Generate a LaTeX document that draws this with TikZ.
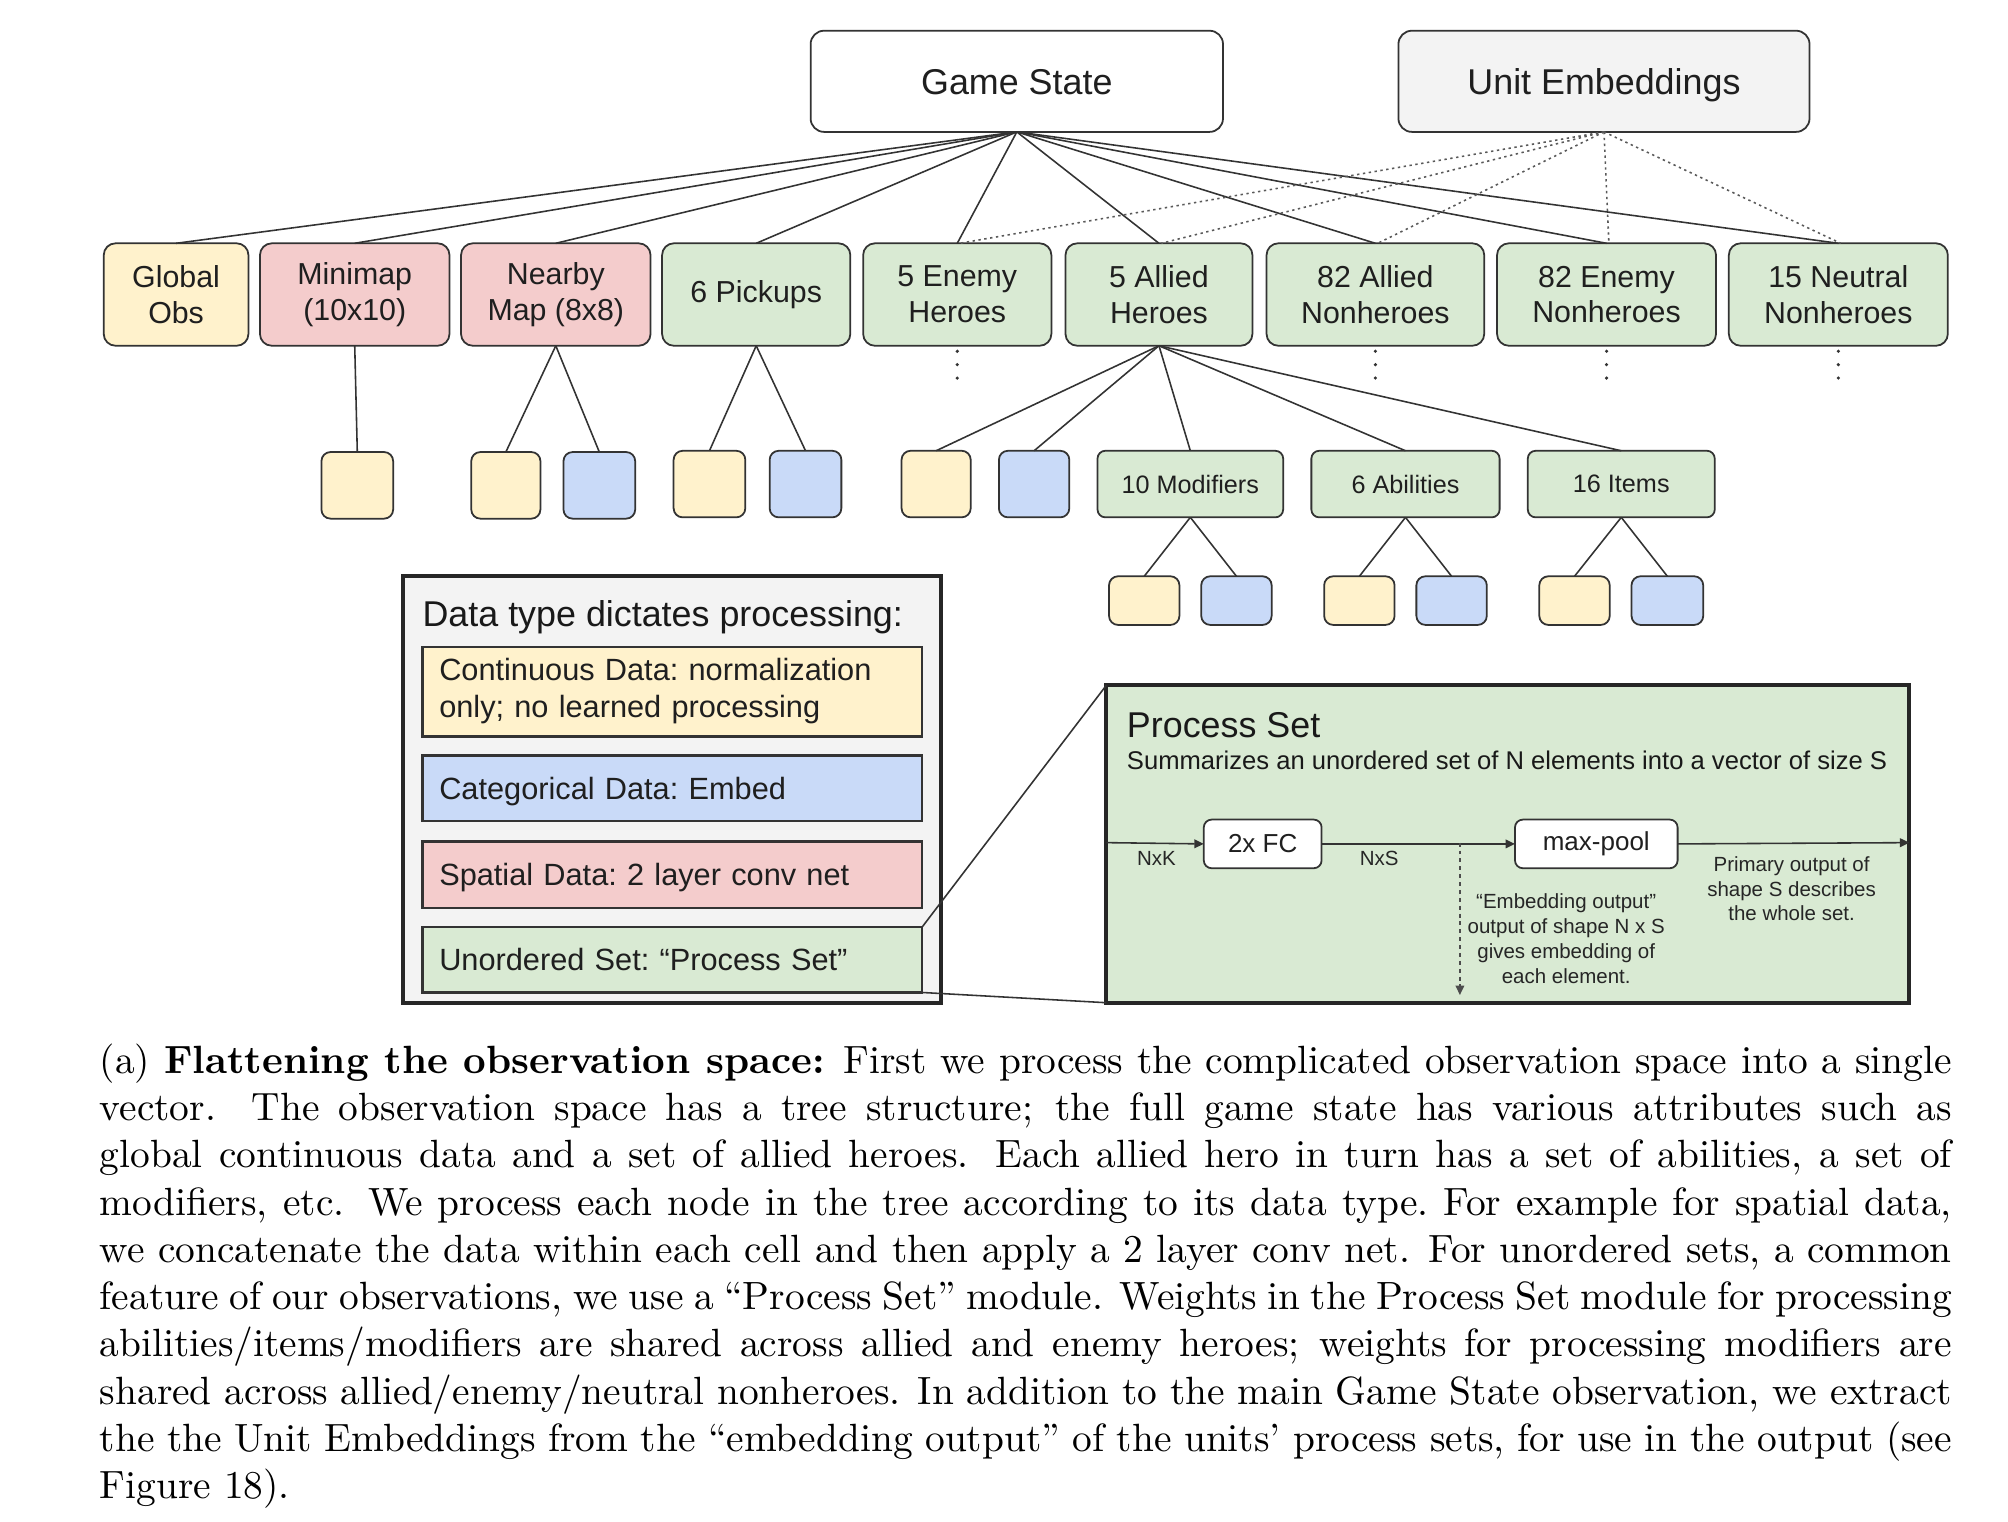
\documentclass[tikz,border=0pt]{standalone}
\usepackage{fontspec}
\newfontfamily\dsans{Liberation Sans}
\usetikzlibrary{arrows.meta}
\definecolor{cyel}{HTML}{FFF2CC}
\definecolor{cpink}{HTML}{F4CCCC}
\definecolor{cgreen}{HTML}{D9EAD3}
\definecolor{cblue}{HTML}{C9DAF8}
\definecolor{cgray}{HTML}{F3F3F3}
\definecolor{cline}{HTML}{333333}
\newcommand\mkbox[7]{\node[#6, minimum width={(#4-#2)*0.325pt}, minimum height={(#5-#3)*0.325pt}] (#1) at ({(#2+#4)/2},{(#3+#5)/2}) {#7};}
\begin{document}
\begin{tikzpicture}[x=0.325pt, y=-0.325pt,
  bx/.style={draw=cline, line width=0.45pt, inner sep=0pt, outer sep=0pt, align=center, text=black!88},
  topbox/.style={bx, rounded corners=3.4pt, text height=6.5pt, text depth=0pt, font=\dsans\frenchspacing\fontsize{9.1}{11}\selectfont},
  rowbox/.style={bx, rounded corners=3pt, font=\dsans\frenchspacing\fontsize{7.7}{9.1}\selectfont},
  leafbox/.style={bx, rounded corners=2.3pt},
  subbox/.style={bx, rounded corners=2pt, fill=cgreen, font=\dsans\frenchspacing\fontsize{6.4}{7.6}\selectfont},
  legbox/.style={bx, line width=0.6pt, text width={364*0.325pt}, align=left, font=\dsans\frenchspacing\fontsize{7.8}{9.4}\selectfont},
  fy/.style={fill=cyel}, fp/.style={fill=cpink}, fg/.style={fill=cgreen}, fb/.style={fill=cblue},
  conn/.style={draw=cline, line width=0.4pt},
  emb/.style={draw=black!65, line width=0.4pt, dash pattern=on 0.6pt off 0.9pt},
  tip/.style={-{Triangle[length=2.4pt,width=2.2pt]}},
  lbl/.style={inner sep=0pt, outer sep=0pt, text=black!85, align=center, font=\dsans\frenchspacing\fontsize{5.2}{6.3}\selectfont},
  ttl/.style={inner sep=0pt, outer sep=0pt, text=black!90, anchor=west, font=\dsans\frenchspacing\fontsize{9.1}{11}\selectfont}
]
\useasboundingbox (0,0) rectangle (1568,1188);
% top
\mkbox{gs}{633}{24}{955}{103}{topbox, fill=white}{Game State}
\mkbox{ue}{1092}{24}{1413}{103}{topbox, fill=cgray}{Unit Embeddings}
% row 1
\mkbox{go}{81}{190}{194}{270}{rowbox, fy}{Global\\Obs}
\mkbox{mm}{203}{190}{351}{270}{rowbox, fp}{Minimap\\(10x10)}
\mkbox{nm}{360}{190}{508}{270}{rowbox, fp}{Nearby\\Map (8x8)}
\mkbox{pk}{517}{190}{664}{270}{rowbox, fg}{6 Pickups}
\mkbox{eh}{674}{190}{821}{270}{rowbox, fg}{5 Enemy\\Heroes}
\mkbox{ah}{832}{190}{978}{270}{rowbox, fg}{5 Allied\\Heroes}
\mkbox{an}{989}{190}{1159}{270}{rowbox, fg}{82 Allied\\Nonheroes}
\mkbox{en}{1169}{190}{1340}{270}{rowbox, fg}{82 Enemy\\Nonheroes}
\mkbox{nn}{1350}{190}{1521}{270}{rowbox, fg}{15 Neutral\\Nonheroes}
% row 2
\mkbox{mmc}{251}{353}{307}{405}{leafbox, fy}{}
\mkbox{nmy}{368}{353}{422}{405}{leafbox, fy}{}
\mkbox{nmb}{440}{353}{496}{405}{leafbox, fb}{}
\mkbox{pky}{526}{352}{582}{404}{leafbox, fy}{}
\mkbox{pkb}{601}{352}{657}{404}{leafbox, fb}{}
\mkbox{ahy}{704}{352}{758}{404}{leafbox, fy}{}
\mkbox{ahb}{780}{352}{835}{404}{leafbox, fb}{}
\mkbox{mod}{857}{352}{1002}{404}{subbox}{10 Modifiers}
\mkbox{abl}{1024}{352}{1171}{404}{subbox}{6 Abilities}
\mkbox{itm}{1193}{352}{1339}{404}{subbox}{16 Items}
% row 3
\mkbox{mdy}{866}{450}{921}{488}{leafbox, fy}{}
\mkbox{mdb}{938}{450}{993}{488}{leafbox, fb}{}
\mkbox{aby}{1034}{450}{1089}{488}{leafbox, fy}{}
\mkbox{abb}{1106}{450}{1161}{488}{leafbox, fb}{}
\mkbox{ity}{1202}{450}{1257}{488}{leafbox, fy}{}
\mkbox{itb}{1274}{450}{1330}{488}{leafbox, fb}{}
% connectors from Game State
\foreach \n in {go,mm,nm,pk,eh,ah,an,en,nn} \draw[conn] (gs.south) -- (\n.north);
% dotted from Unit Embeddings
\foreach \n in {eh,ah,an,en,nn} \draw[emb] (ue.south) -- ([xshift=0.6pt]\n.north);
% ellipsis dots
\foreach \n in {eh,an,en,nn} {
  \fill[cline] ([yshift=-1.4pt]\n.south) circle (0.45pt);
  \fill[cline] ([yshift=-4.8pt]\n.south) circle (0.45pt);
  \fill[cline] ([yshift=-8.2pt]\n.south) circle (0.45pt);
}
% tree below
\draw[conn] (mm.south) -- (mmc.north);
\draw[conn] (nm.south) -- (nmy.north);
\draw[conn] (nm.south) -- (nmb.north);
\draw[conn] (pk.south) -- (pky.north);
\draw[conn] (pk.south) -- (pkb.north);
\foreach \n in {ahy,ahb,mod,abl,itm} \draw[conn] (ah.south) -- (\n.north);
\draw[conn] (mod.south) -- (mdy.north);
\draw[conn] (mod.south) -- (mdb.north);
\draw[conn] (abl.south) -- (aby.north);
\draw[conn] (abl.south) -- (abb.north);
\draw[conn] (itm.south) -- (ity.north);
\draw[conn] (itm.south) -- (itb.north);
% legend
\mkbox{lg}{315}{450}{735}{783}{draw=black!85, line width=1pt, fill=cgray, inner sep=0pt, outer sep=0pt}{}
\node[ttl] (lgt) at (330,482) {Data type dictates processing:};
\mkbox{lc}{330}{505}{720}{575}{legbox, fy}{Continuous Data: normalization\\only; no learned processing}
\mkbox{lcat}{330}{590}{720}{641}{legbox, fb, text height=5.6pt, text depth=0pt}{Categorical Data: Embed}
\mkbox{lsp}{330}{657}{720}{709}{legbox, fp, text height=5.6pt, text depth=0pt}{Spatial Data: 2 layer conv net}
\mkbox{lun}{330}{724}{720}{775}{legbox, fg, text height=5.6pt, text depth=0pt}{Unordered Set: “Process Set”}
% process set
\mkbox{ps}{864}{535}{1491}{783}{draw=black!85, line width=1pt, fill=cgreen, inner sep=0pt, outer sep=0pt}{}
\draw[conn] (lun.north east) -- (ps.north west);
\draw[conn] (lun.south east) -- (ps.south west);
\node[ttl] (pst) at (880,566) {Process Set};
\node[ttl, font=\dsans\frenchspacing\fontsize{6.5}{7.8}\selectfont] (pss) at (880,594) {Summarizes an unordered set of N elements into a vector of size S};
\mkbox{fc}{940}{640}{1032}{678}{bx, fill=white, rounded corners=2pt, font=\dsans\fontsize{6.6}{8}\selectfont}{2x FC}
\mkbox{mp}{1183}{640}{1310}{678}{bx, fill=white, rounded corners=2pt, font=\dsans\fontsize{6.6}{8}\selectfont}{max-pool}
\coordinate (pin) at (864,658);
\coordinate (pout) at (1491,658);
\coordinate (split) at (1140,658);
\coordinate (edown) at (1140,777);
\draw[conn, tip] (pin) -- (fc.west);
\draw[conn, tip] (fc.east) -- (mp.west);
\draw[conn, tip] (mp.east) -- (pout);
\draw[draw=black!70, line width=0.35pt, dash pattern=on 1pt off 1pt, tip] (split) -- (edown);
\node[lbl] (nxk) at (903,670) {NxK};
\node[lbl] (nxs) at (1077,670) {NxS};
\node[lbl] (embt) at (1223,733) {“Embedding output”\\output of shape N x S\\gives embedding of\\each element.};
\node[lbl] (prim) at (1399,694) {Primary output of\\shape S describes\\the whole set.};
% caption
\node[anchor=base west, inner sep=0pt, outer sep=0pt] (cap) at (78,838) {\parbox[t]{470pt}{\fontsize{10}{12}\selectfont
(a) \textbf{Flattening the observation space:} First we process the complicated observation space into a single\linebreak
vector. The observation space has a tree structure; the full game state has various attributes such as\linebreak
global continuous data and a set of allied heroes. Each allied hero in turn has a set of abilities, a set of\linebreak
modifiers, etc. We process each node in the tree according to its data type.\ For example for spatial data,\linebreak
we concatenate the data within each cell and then apply a 2 layer conv net. For unordered sets, a common\linebreak
feature of our observations, we use a “Process Set” module. Weights in the Process Set module for processing\linebreak
abilities/items/modifiers are shared across allied and enemy heroes; weights for processing modifiers are\linebreak
shared across allied/enemy/neutral nonheroes. In addition to the main Game State observation, we extract\linebreak
the the Unit Embeddings from the “embedding output” of the units’ process sets, for use in the output (see\linebreak
Figure 18).}};
\end{tikzpicture}
\end{document}
